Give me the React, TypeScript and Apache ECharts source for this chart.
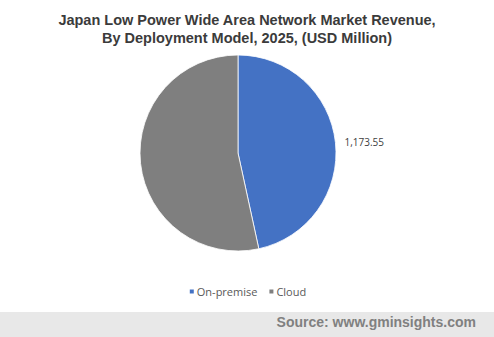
import React, { useEffect, useRef } from "react";
import * as echarts from "echarts";

const titleLines = [
  "Japan Low Power Wide Area Network Market Revenue,",
  "By Deployment Model, 2025, (USD Million)",
];
const categories = ["On-premise", "Cloud"];
const values = [1173.55, 1345];
const colors = ["#4472C4", "#7F7F7F"];
const showLabel = [true, false];
const sourceText = "Source: www.gminsights.com";

export default function App() {
  const ref = useRef<HTMLDivElement>(null);
  useEffect(() => {
    if (!ref.current) return;
    const chart = echarts.init(ref.current, null, { renderer: "svg" });
    chart.setOption({
      animation: false,
      backgroundColor: "#ffffff",
      title: {
        text: titleLines.join("\n"),
        left: "center",
        top: 6,
        textStyle: {
          fontFamily: "Liberation Sans, Arial, sans-serif",
          fontSize: 14.5,
          fontWeight: "bold",
          color: "#3b3b3b",
          lineHeight: 18,
        },
      },
      legend: {
        data: categories,
        left: "center",
        top: 281,
        itemWidth: 6,
        itemHeight: 6,
        itemGap: 10,
        icon: "rect",
        textStyle: {
          fontFamily: "Open Sans, sans-serif",
          fontSize: 11,
          color: "#595959",
          padding: [0, 0, 0, -3],
        },
      },
      graphic: [
        {
          type: "rect",
          shape: { x: 0, y: 312, width: 494, height: 25 },
          style: { fill: "#e8e8e8" },
          silent: true,
        },
        {
          type: "text",
          x: 476,
          y: 322,
          style: {
            text: sourceText,
            align: "right",
            verticalAlign: "middle",
            fontFamily: "Liberation Sans, Arial, sans-serif",
            fontSize: 14,
            fontWeight: "bold",
            fill: "#808080",
          },
        },
      ],
      series: [
        {
          type: "pie",
          center: [238, 153],
          radius: 98,
          startAngle: 90,
          clockwise: true,
          itemStyle: { borderColor: "#ffffff", borderWidth: 0.8 },
          labelLine: { show: false, length: 4, length2: 0 },
          label: {
            show: true,
            position: "outside",
            fontFamily: "Open Sans, sans-serif",
            fontSize: 10,
            color: "#404040",
            formatter: (p: any) =>
              p.value.toLocaleString("en-US", {
                minimumFractionDigits: 2,
                maximumFractionDigits: 2,
              }),
          },
          data: categories.map((c, i) => ({
            name: c,
            value: values[i],
            itemStyle: { color: colors[i] },
            label: { show: showLabel[i] },
          })),
        },
      ],
    });
    return () => chart.dispose();
  }, []);
  return (
    <div
      ref={ref}
      style={{ position: "fixed", left: 0, top: 0, width: 494, height: 337 }}
    />
  );
}
